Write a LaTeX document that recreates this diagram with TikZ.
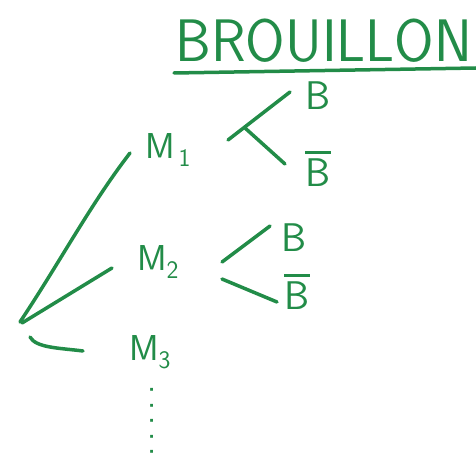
\documentclass[tikz,border=0pt]{standalone}
\usepackage{tikz}
\usetikzlibrary{positioning}
\definecolor{pen}{RGB}{34,140,72}
\newcommand{\barB}{\vbox{\hrule height 2.5pt\kern 5pt\hbox{B}}}

\begin{document}
\begin{tikzpicture}[x=1pt,y=-1pt]
\tikzstyle{word} = [text=pen,font=\fontsize{36}{40}\selectfont\sffamily,inner sep=0pt]
\tikzstyle{leaf} = [text=pen,font=\fontsize{40}{44}\selectfont\sffamily,inner sep=0pt]
\tikzstyle{title} = [text=pen,font=\fontsize{60}{70}\selectfont\sffamily,xscale=0.95,inner sep=0pt]
\tikzstyle{stroke} = [draw=pen,line width=3.5pt,line cap=round]

\useasboundingbox (0,0) rectangle (476,462);

\node (head) [title] at (324,41) {BROUILLON};
\coordinate (root) at (20,322);
\node (m1) [word] at (168,150) {M\kern4pt\textsubscript{1}};
\node (m2) [word] at (158,262) {M\textsubscript{2}};
\node (m3) [word] at (150,352) {M\textsubscript{3}};
\node (b1) [leaf] at (318,96) {B};
\node (nb1) [leaf] at (318,169) {\barB};
\node (b2) [leaf] at (294,238) {B};
\node (nb2) [leaf] at (297,292) {\barB};
\node (more) [word,rotate=90] at (152,421) {.\,.\,.\,.\,.};

% underline of the title
\draw [stroke] ([shift={(-150,32)}]head.center) -- ([shift={(152,27)}]head.center);

\draw [stroke] (root) .. controls (60,262) and (90,205) .. ([shift={(-38,3)}]m1.center);
\draw [stroke] ([shift={(2,1)}]root) -- ([shift={(-46,6)}]m2.center);
\draw [stroke] ([shift={(10,15)}]root) .. controls (36,348) and (60,348) .. ([shift={(-67,-1)}]m3.center);

\draw [stroke] ([shift={(60,-10)}]m1.center) -- ([shift={(-28,-4)}]b1.center);
\draw [stroke] ([shift={(77,-22)}]m1.center) -- ([shift={(-33,-5)}]nb1.center);
\draw [stroke] ([shift={(64,0)}]m2.center) -- ([shift={(-24,-12)}]b2.center);
\draw [stroke] ([shift={(64,17)}]m2.center) -- ([shift={(-20,10)}]nb2.center);

\end{tikzpicture}
\end{document}
